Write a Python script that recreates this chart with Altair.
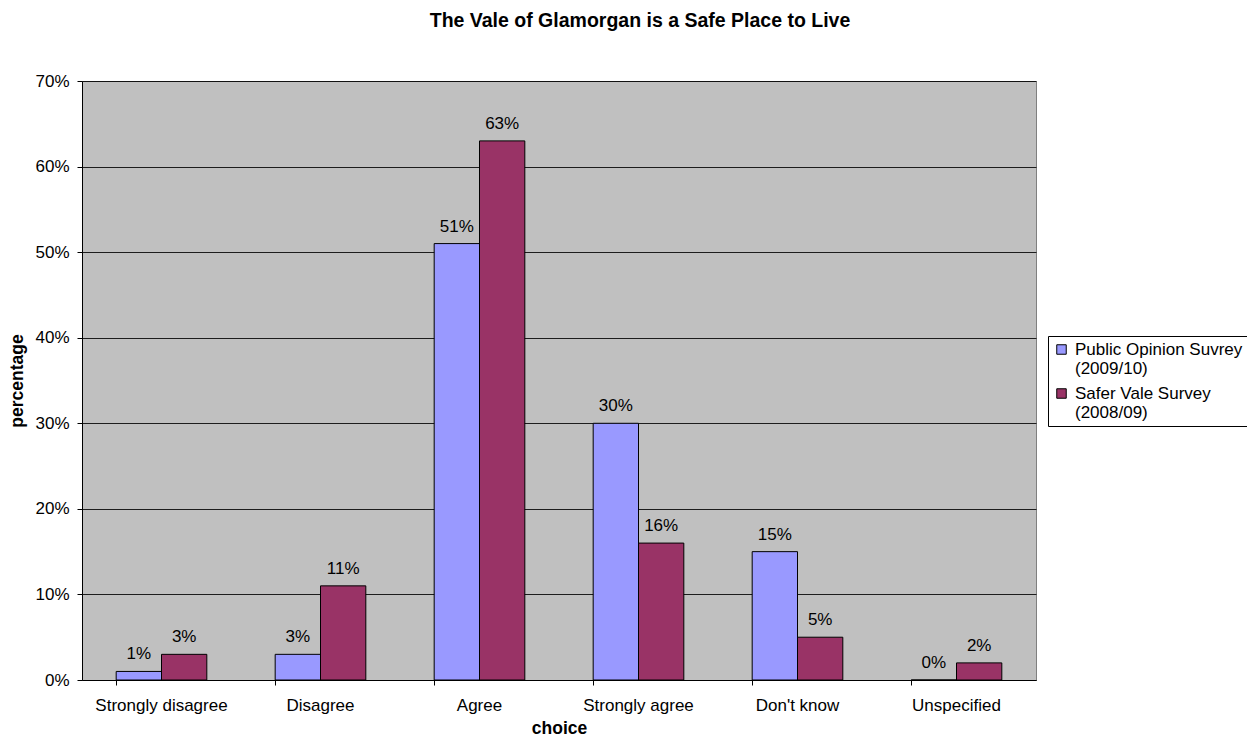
import altair as alt
import pandas as pd

categories = ["Strongly disagree", "Disagree", "Agree", "Strongly agree", "Don't know", "Unspecified"]
series_names = ["Public Opinion Suvrey (2009/10)", "Safer Vale Survey (2008/09)"]
public_opinion = [0.01, 0.03, 0.51, 0.30, 0.15, 0.00]
safer_vale = [0.03, 0.11, 0.63, 0.16, 0.05, 0.02]
colors = ["#9999FF", "#993366"]

rows = []
for i, c in enumerate(categories):
    rows.append({"choice": c, "series": series_names[0], "value": public_opinion[i]})
    rows.append({"choice": c, "series": series_names[1], "value": safer_vale[i]})
df = pd.DataFrame(rows)

FONT = "Liberation Sans"

x = alt.X("choice:N", sort=categories, title="choice",
          scale=alt.Scale(paddingInner=0.43, paddingOuter=0.215),
          axis=alt.Axis(labelAngle=0, labelFontSize=17, labelFont=FONT, labelColor="black",
                        titleFontSize=17.5, titleFont=FONT, titleColor="black", titleFontWeight="bold",
                        domainColor="black", tickColor="black", tickSize=5, labelPadding=12,
                        bandPosition=0, titlePadding=6, grid=False))
y = alt.Y("value:Q", title="percentage",
          scale=alt.Scale(domain=[0, 0.7], nice=False),
          axis=alt.Axis(format=".0%", values=[0, 0.1, 0.2, 0.3, 0.4, 0.5, 0.6, 0.7],
                        labelFontSize=17, labelFont=FONT, labelColor="black",
                        titleFontSize=17.5, titleFont=FONT, titleColor="black", titleFontWeight="bold",
                        domainColor="black", tickColor="black", tickSize=5, labelPadding=8,
                        gridColor="black", gridOpacity=0.85, titlePadding=8))
color = alt.Color("series:N", sort=series_names,
                  scale=alt.Scale(domain=series_names, range=colors),
                  legend=alt.Legend(title=None, orient="none", legendX=966, legendY=255,
                                    labelFont=FONT, labelFontSize=17, labelColor="black",
                                    labelExpr="[slice(datum.label, 0, indexof(datum.label, ' (')), slice(datum.label, indexof(datum.label, ' (') + 1)]",
                                    labelBaseline="middle", labelOffset=5,
                                    symbolType="square", symbolSize=90, symbolStrokeColor="black",
                                    symbolStrokeWidth=1, symbolOpacity=1,
                                    strokeColor="black", fillColor="white", padding=5,
                                    rowPadding=7, labelLimit=300))

bars = alt.Chart(df).mark_bar(stroke="black", strokeWidth=1, opacity=1).encode(
    x=x, y=y, color=color,
    xOffset=alt.XOffset("series:N", sort=series_names,
                        scale=alt.Scale(paddingInner=0, paddingOuter=0)),
)
labels = alt.Chart(df).mark_text(baseline="bottom", dy=-8, fontSize=17, font=FONT, color="black").encode(
    x=alt.X("choice:N", sort=categories),
    xOffset=alt.XOffset("series:N", sort=series_names),
    y=alt.Y("value:Q"),
    text=alt.Text("value:Q", format=".0%"),
)

chart = alt.layer(bars, labels).properties(
    width=954, height=599,
    title=alt.TitleParams("The Vale of Glamorgan is a Safe Place to Live", font=FONT, fontSize=19.5,
                          fontWeight="bold", color="black", anchor="middle", dx=81, offset=41),
    autosize=alt.AutoSizeParams(type="none"),
    padding={"left": 74, "top": 73, "right": 211, "bottom": 56},
).configure_view(fill="#C0C0C0", stroke="#808080", strokeWidth=1)

chart.save("out.html", embed_options={"renderer": "svg", "actions": False})
